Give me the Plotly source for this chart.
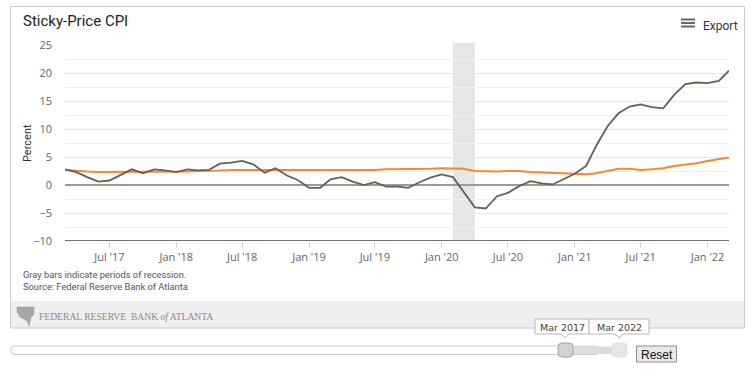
import plotly.graph_objects as go
import pandas as pd

# ---------------- data ----------------
dates = pd.date_range("2017-03-01", "2022-03-01", freq="MS")

flexible_cpi = [
    2.8, 2.3, 1.4, 0.6, 0.8, 1.8, 2.8, 2.1, 2.8, 2.6,          # Mar17-Dec17
    2.3, 2.8, 2.6, 2.7, 3.8, 4.0, 4.3, 3.7, 2.2, 3.0, 1.7, 0.9,  # 2018
    -0.5, -0.5, 1.0, 1.4, 0.6, 0.0, 0.5, -0.3, -0.3, -0.5, 0.5, 1.3,  # 2019
    1.9, 1.4, -1.3, -4.0, -4.2, -2.0, -1.4, -0.2, 0.7, 0.3, 0.1, 1.0,  # 2020
    2.0, 3.4, 7.0, 10.5, 12.8, 14.0, 14.4, 13.9, 13.7, 16.1, 18.0, 18.3,  # 2021
    18.2, 18.6, 20.4,  # 2022
]
sticky_cpi = [
    2.7, 2.5, 2.4, 2.3, 2.3, 2.3, 2.3, 2.3, 2.3, 2.3,
    2.4, 2.4, 2.5, 2.5, 2.6, 2.7, 2.7, 2.6, 2.6, 2.6, 2.6, 2.6,
    2.6, 2.6, 2.6, 2.6, 2.6, 2.7, 2.7, 2.8, 2.8, 2.9, 2.9, 2.9,
    3.0, 3.0, 2.9, 2.5, 2.4, 2.4, 2.5, 2.5, 2.3, 2.2, 2.2, 2.0,
    1.9, 1.9, 2.1, 2.5, 2.9, 2.9, 2.7, 2.8, 3.0, 3.4, 3.6, 3.9,
    4.3, 4.6, 4.9,
]
recession_start = "2020-02-01"
recession_end = "2020-04-01"
y_ticks = [-10, -5, 0, 5, 10, 15, 20, 25]
x_tick_dates = ["2017-07-01", "2018-01-01", "2018-07-01", "2019-01-01", "2019-07-01",
                "2020-01-01", "2020-07-01", "2021-01-01", "2021-07-01", "2022-01-01"]
x_tick_labels = ["Jul '17", "Jan '18", "Jul '18", "Jan '19", "Jul '19",
                 "Jan '20", "Jul '20", "Jan '21", "Jul '21", "Jan '22"]

# ---------------- layout helpers ----------------
W, H = 752, 376
L, R, T, B = 65, 23, 45, 135
PW, PH = W - L - R, H - T - B


def X(px):
    return (px - L) / PW


def Y(py):
    return (H - B - py) / PH


def rrect(x0, y0, x1, y1, r):
    # rounded rectangle path in paper coords from pixel coords
    return (f"M {X(x0 + r)} {Y(y0)} L {X(x1 - r)} {Y(y0)} "
            f"Q {X(x1)} {Y(y0)} {X(x1)} {Y(y0 + r)} L {X(x1)} {Y(y1 - r)} "
            f"Q {X(x1)} {Y(y1)} {X(x1 - r)} {Y(y1)} L {X(x0 + r)} {Y(y1)} "
            f"Q {X(x0)} {Y(y1)} {X(x0)} {Y(y1 - r)} L {X(x0)} {Y(y0 + r)} "
            f"Q {X(x0)} {Y(y0)} {X(x0 + r)} {Y(y0)} Z")


def tip(x0, x1, y0, y1, px):
    return (f"M {X(x0)} {Y(y0)} L {X(x1)} {Y(y0)} L {X(x1)} {Y(y1)} "
            f"L {X(px + 4)} {Y(y1)} L {X(px)} {Y(y1 + 4)} L {X(px - 4)} {Y(y1)} "
            f"L {X(x0)} {Y(y1)} Z")


fig = go.Figure()
fig.add_trace(go.Scatter(x=dates, y=sticky_cpi, mode="lines", name="Sticky Price",
                         line=dict(color="#f7892c", width=2)))
fig.add_trace(go.Scatter(x=dates, y=flexible_cpi, mode="lines", name="Flexible Price",
                         line=dict(color="#695f53", width=1.8)))

shapes = []
# recession band
shapes.append(dict(type="rect", xref="x", yref="paper", x0=recession_start, x1=recession_end,
                   y0=0, y1=1.01, fillcolor="#e6e6e6", line=dict(width=0), layer="below"))
# footer band
shapes.append(dict(type="rect", xref="paper", yref="paper", x0=X(11), x1=X(744),
                   y0=Y(328), y1=Y(301), fillcolor="#efefef", line=dict(width=0)))
# outer box
shapes.append(dict(type="rect", xref="paper", yref="paper", x0=X(10.5), x1=X(744.5),
                   y0=Y(328), y1=Y(6.5), line=dict(color="#cccccc", width=1)))
# hamburger icon
for yy in (19.5, 23, 26.5):
    shapes.append(dict(type="rect", xref="paper", yref="paper", x0=X(681), x1=X(695),
                       y0=Y(yy + 1), y1=Y(yy - 1), fillcolor="#666666", line=dict(width=0)))
# logo (stylized shield)
shapes.append(dict(type="path", xref="paper", yref="paper",
                   path=(f"M {X(17)} {Y(307)} L {X(34)} {Y(307)} L {X(34)} {Y(314)} "
                         f"L {X(31)} {Y(318)} L {X(29)} {Y(326)} L {X(27)} {Y(321)} "
                         f"L {X(20)} {Y(317)} L {X(17)} {Y(312)} Z"),
                   fillcolor="#a8a8a8", line=dict(color="#999999", width=0.5)))
# slider track
shapes.append(dict(type="path", xref="paper", yref="paper", path=rrect(11, 346, 600, 354.5, 4),
                   fillcolor="#ffffff", line=dict(color="#cccccc", width=1)))
shapes.append(dict(type="rect", xref="paper", yref="paper", x0=X(566), x1=X(620),
                   y0=Y(354), y1=Y(346.5), fillcolor="#dddddd", line=dict(width=0)))
# handles
shapes.append(dict(type="path", xref="paper", yref="paper", path=rrect(558, 343, 573, 357, 4),
                   fillcolor="#d2d2d2", line=dict(color="#a8a8a8", width=1)))
shapes.append(dict(type="path", xref="paper", yref="paper", path=rrect(612, 343, 627, 357, 4),
                   fillcolor="#e6e6e6", line=dict(color="#e0e0e0", width=1)))
# tooltips
shapes.append(dict(type="path", xref="paper", yref="paper", path=tip(535, 589, 319, 334, 565),
                   fillcolor="#ffffff", line=dict(color="#b8b8b8", width=1)))
shapes.append(dict(type="path", xref="paper", yref="paper", path=tip(589, 649, 319, 334, 619),
                   fillcolor="#ffffff", line=dict(color="#b8b8b8", width=1)))
# reset button
shapes.append(dict(type="rect", xref="paper", yref="paper", x0=X(636.5), x1=X(676.5),
                   y0=Y(362), y1=Y(346), fillcolor="#e9e9e9", line=dict(color="#8f8f8f", width=1)))

ann = []


def text(px, py, s, size, color, family="Roboto", anchor="left", **kw):
    ann.append(dict(x=X(px), y=Y(py), xref="paper", yref="paper", text=s, showarrow=False,
                    xanchor=anchor, yanchor="middle",
                    font=dict(size=size, color=color, family=family), **kw))


text(21, 21, "Sticky-Price CPI", 15, "#222222")
text(701, 26, "Export", 12, "#333333")
text(21, 274, "Gray bars indicate periods of recession.", 9.3, "#555555")
text(21, 286, "Source: Federal Reserve Bank of Atlanta", 9.3, "#555555")
text(37, 316, "FEDERAL RESERVE  BANK <i>of</i> ATLANTA", 9.6, "#8a8a8a", family="Liberation Serif")
text(562, 327, "Mar 2017", 9.5, "#444444", family="DejaVu Sans", anchor="center")
text(619, 327, "Mar 2022", 9.5, "#444444", family="DejaVu Sans", anchor="center")
text(656.5, 354.5, "Reset", 12, "#111111", family="Liberation Sans", anchor="center")
text(27, 143, "Percent", 11, "#333333", anchor="center", textangle=-90)

fig.update_layout(
    width=W, height=H,
    margin=dict(l=L, r=R, t=T, b=B, pad=0),
    paper_bgcolor="white", plot_bgcolor="white",
    showlegend=False,
    shapes=shapes, annotations=ann,
    hovermode="x unified",
    font=dict(family="Open Sans", color="#666666", size=11),
    xaxis=dict(
        type="date", range=["2017-03-01", "2022-03-01"],
        tickvals=x_tick_dates, ticktext=x_tick_labels,
        showgrid=False, zeroline=False,
        ticks="outside", ticklen=6, tickcolor="#ccd6eb", tickwidth=1,
        showline=False, tickfont=dict(size=11, color="#666666", family="Open Sans"),
    ),
    yaxis=dict(
        range=[-10, 25], tickvals=y_ticks,
        showgrid=True, gridcolor="#e6e6e6", gridwidth=1,
        minor=dict(dtick=2.5, tick0=0, showgrid=True, gridcolor="#efefef", gridwidth=1),
        zeroline=True, zerolinecolor="#9a9a9a", zerolinewidth=1.5,
        showline=False, ticks="", ticklabelstandoff=12,
        tickfont=dict(size=11, color="#666666", family="Open Sans"),
    ),
)
# bottom axis line at -10
fig.add_hline(y=-10, line=dict(color="#707070", width=2))

fig.write_html("out.html", config={"displayModeBar": False})
